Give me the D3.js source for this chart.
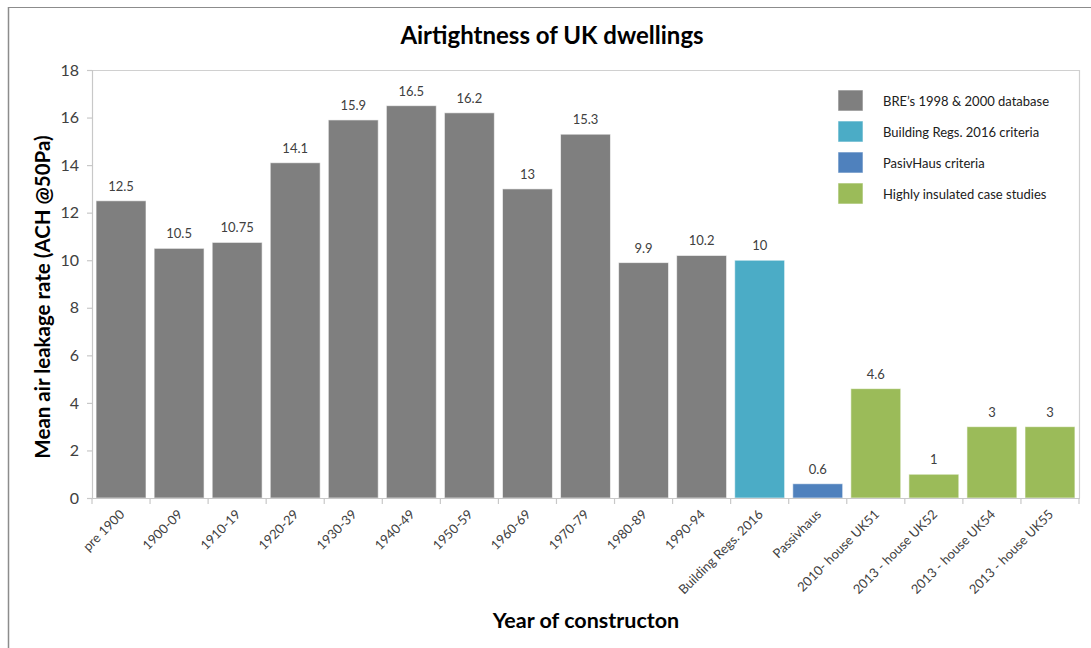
<!DOCTYPE html>
<html>
<head>
<meta charset="utf-8">
<script src="https://cdn.jsdelivr.net/npm/d3@7"></script>
<style>
  html, body { margin: 0; padding: 0; background: #fff; }
  svg { display: block; font-family: "Lato", "Open Sans", sans-serif; }
</style>
</head>
<body>
<svg id="chart" width="1091" height="648"></svg>
<script>
// Airtightness data: mean air leakage rate (ACH @50Pa) by year of construction
const categories = [
  "pre 1900", "1900-09", "1910-19", "1920-29", "1930-39", "1940-49",
  "1950-59", "1960-69", "1970-79", "1980-89", "1990-94",
  "Building Regs. 2016", "Passivhaus", "2010- house UK51",
  "2013 - house UK52", "2013 - house UK54", "2013 - house UK55"
];
const values = [12.5, 10.5, 10.75, 14.1, 15.9, 16.5, 16.2, 13, 15.3, 9.9, 10.2, 10, 0.6, 4.6, 1, 3, 3];
const valueLabels = ["12.5", "10.5", "10.75", "14.1", "15.9", "16.5", "16.2", "13", "15.3", "9.9", "10.2", "10", "0.6", "4.6", "1", "3", "3"];
const groups = ["bre", "bre", "bre", "bre", "bre", "bre", "bre", "bre", "bre", "bre", "bre",
                "regs", "passiv", "case", "case", "case", "case"];
const seriesKeys = ["bre", "regs", "passiv", "case"];
const seriesNames = ["BRE\u2019s 1998 & 2000 database", "Building Regs. 2016 criteria", "PasivHaus criteria", "Highly insulated case studies"];
const seriesColors = ["#7f7f7f", "#4bacc6", "#4f81bd", "#9bbb59"];
const yTicks = [0, 2, 4, 6, 8, 10, 12, 14, 16, 18];

const data = categories.map((c, i) => ({ cat: c, value: values[i], label: valueLabels[i], group: groups[i] }));

const svg = d3.select("#chart");
const W = 1091, H = 648;
const plot = { left: 92, right: 1079, top: 70, bottom: 498 };

const color = d3.scaleOrdinal().domain(seriesKeys).range(seriesColors);

const x = d3.scaleBand()
  .domain(categories)
  .range([plot.left, plot.right])
  .paddingInner(0.14)
  .paddingOuter(0.07);

const y = d3.scaleLinear().domain([0, 18]).range([plot.bottom, plot.top]);

// Chart frame (left and top edges of the outer box)
svg.append("line").attr("x1", 8.5).attr("x2", 8.5).attr("y1", 7).attr("y2", H)
  .attr("stroke", "#8c8c8c").attr("stroke-width", 1.5);
svg.append("line").attr("x1", 8).attr("x2", W).attr("y1", 7.5).attr("y2", 7.5)
  .attr("stroke", "#8c8c8c").attr("stroke-width", 1);

// Plot area border (top and right)
svg.append("path")
  .attr("d", `M${plot.left},${plot.top + 0.5}H${plot.right + 0.5}V${plot.bottom}`)
  .attr("fill", "none").attr("stroke", "#d0d0d0").attr("stroke-width", 1.2);

// Bars
svg.append("g").selectAll("rect")
  .data(data)
  .join("rect")
  .attr("x", d => x(d.cat))
  .attr("y", d => y(d.value))
  .attr("width", x.bandwidth())
  .attr("height", d => y(0) - y(d.value))
  .attr("fill", d => color(d.group))
  .attr("stroke", "#ffffff")
  .attr("stroke-opacity", 0.6)
  .attr("stroke-width", 1);

// Value labels
svg.append("g").selectAll("text")
  .data(data)
  .join("text")
  .attr("x", d => x(d.cat) + x.bandwidth() / 2)
  .attr("y", d => y(d.value) - 10)
  .attr("text-anchor", "middle")
  .attr("font-size", 13)
  .attr("fill", "#404040")
  .text(d => d.label);

// Y axis
const yAxis = svg.append("g")
  .attr("transform", `translate(${plot.left},0)`)
  .call(d3.axisLeft(y).tickValues(yTicks).tickSize(5).tickPadding(8).tickFormat(d3.format("d")));
yAxis.select(".domain").attr("stroke", "#c8c8c8").attr("stroke-width", 1.2);
yAxis.selectAll(".tick line").attr("stroke", "#c8c8c8").attr("stroke-width", 1.2);
yAxis.selectAll(".tick text").attr("font-size", 16).attr("fill", "#404040")
  .attr("font-family", "Lato, 'Open Sans', sans-serif");

// X axis with ticks at band boundaries
const xAxisG = svg.append("g").attr("transform", `translate(0,${plot.bottom})`);
xAxisG.append("line").attr("x1", plot.left).attr("x2", plot.right + 1)
  .attr("y1", 0.5).attr("y2", 0.5).attr("stroke", "#c8c8c8").attr("stroke-width", 1.2);
const boundaries = d3.range(categories.length + 1).map(i => plot.left + i * (plot.right - plot.left) / categories.length);
xAxisG.selectAll("line.tk")
  .data(boundaries)
  .join("line").attr("class", "tk")
  .attr("x1", d => d).attr("x2", d => d)
  .attr("y1", 0).attr("y2", 6)
  .attr("stroke", "#c8c8c8").attr("stroke-width", 1.2);
xAxisG.selectAll("text")
  .data(categories)
  .join("text")
  .attr("transform", d => `translate(${x(d) + x.bandwidth() / 2 + 1},${14}) rotate(-45)`)
  .attr("text-anchor", "end")
  .attr("dy", "0.35em")
  .attr("font-size", 13)
  .attr("fill", "#404040")
  .text(d => d);

// Titles
svg.append("text")
  .attr("x", 552).attr("y", 44)
  .attr("text-anchor", "middle")
  .attr("font-size", 24).attr("font-weight", "bold").attr("fill", "#000")
  .text("Airtightness of UK dwellings");

svg.append("text")
  .attr("transform", `translate(50,297) rotate(-90)`)
  .attr("text-anchor", "middle")
  .attr("font-size", 20.5).attr("font-weight", "bold").attr("fill", "#000")
  .text("Mean air leakage rate (ACH @50Pa)");

svg.append("text")
  .attr("x", 586).attr("y", 628)
  .attr("text-anchor", "middle")
  .attr("font-size", 21.5).attr("font-weight", "bold").attr("fill", "#000")
  .text("Year of constructon");

// Legend
const legend = svg.append("g").attr("transform", "translate(838,90)");
const rows = legend.selectAll("g")
  .data(seriesKeys)
  .join("g")
  .attr("transform", (d, i) => `translate(0,${i * 31})`);
rows.append("rect")
  .attr("width", 25).attr("height", 21)
  .attr("fill", d => color(d))
  .attr("stroke", "#ffffff").attr("stroke-opacity", 0.6);
rows.append("text")
  .attr("x", 45).attr("y", 11).attr("dy", "0.35em")
  .attr("font-size", 13).attr("fill", "#202020")
  .text((d, i) => seriesNames[i]);
</script>
</body>
</html>
